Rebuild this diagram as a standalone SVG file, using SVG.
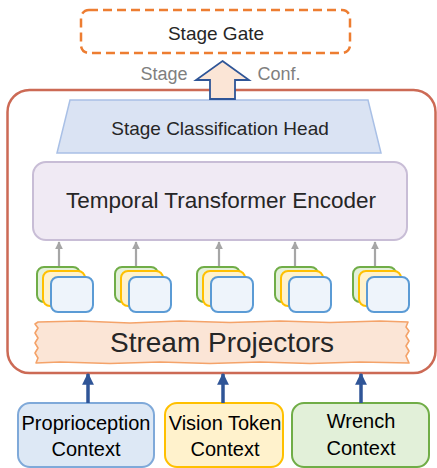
<svg xmlns="http://www.w3.org/2000/svg" width="437" height="468" viewBox="0 0 437 468">
<style>
text{font-family:"Liberation Sans",Arial,sans-serif;fill:#262626;text-anchor:middle}
.gray{fill:#7f7f7f}
.blk{fill:#000}
.card{stroke-width:2}
.g{fill:#e2f0d9;stroke:#70ad47}
.y{fill:#fff2cc;stroke:#ffc000}
.b{fill:#eef4fb;stroke:#5b9bd5}
.garrow{stroke:#a6a6a6;stroke-width:2.2}
.barrow{stroke:#2f5597;stroke-width:3.5}
</style>
<defs>
<g id="stack">
<rect class="card g" x="0" y="0" width="43" height="35" rx="7"/>
<rect class="card y" x="6" y="4" width="42" height="35" rx="7"/>
<rect class="card b" x="14" y="10" width="42" height="35" rx="7"/>
</g>
<marker id="gh" viewBox="0 0 10 10" refX="9" refY="5" markerWidth="3.5" markerHeight="3.5" orient="auto" markerUnits="strokeWidth">
<path d="M0,0 L10,5 L0,10 z" fill="#a6a6a6"/>
</marker>
<marker id="bh" viewBox="0 0 10 10" refX="9" refY="5" markerWidth="3.6" markerHeight="3.4" orient="auto" markerUnits="strokeWidth">
<path d="M0,0 L10,5 L0,10 z" fill="#2f5597"/>
</marker>
</defs>

<g id="stage-gate">
<rect x="81" y="10" width="269" height="43" rx="8" fill="#fff" stroke="#ed7d31" stroke-width="2.5" stroke-dasharray="9 5"/>
<text x="216" y="40" font-size="19">Stage Gate</text>
</g>

<g id="outer">
<rect x="7.5" y="90" width="428" height="283" rx="22" fill="#fff" stroke="#cc6a55" stroke-width="2.5"/>
</g>

<g id="head">
<polygon points="70,100 368,100 381,153 57,153" fill="#dae3f3" stroke="#a9c0e6" stroke-width="1.5"/>
<text x="220" y="135" font-size="19">Stage Classification Head</text>
</g>

<g id="output-arrow">
<polygon points="222.5,61 249,80 235,80 235,99 210,99 210,80 196,80" fill="#fbe5d6" stroke="#2f5597" stroke-width="1.8" stroke-linejoin="miter"/>
<text class="gray" x="164" y="80" font-size="18">Stage</text>
<text class="gray" x="279" y="80" font-size="18">Conf.</text>
</g>

<g id="encoder">
<rect x="33" y="162" width="374" height="78" rx="13" fill="#f0eaf4" stroke="#c8bdd6" stroke-width="2"/>
<text x="221" y="208" font-size="22.5">Temporal Transformer Encoder</text>
</g>

<g id="token-stacks">
<use href="#stack" x="37" y="267"/>
<use href="#stack" x="115" y="267"/>
<use href="#stack" x="197" y="267"/>
<use href="#stack" x="275" y="267"/>
<use href="#stack" x="353" y="267"/>
</g>

<g id="stream-projectors">
<path d="M38,322 L80,321 L130,323 L180,321 L230,322.5 L280,321 L330,322.5 L380,321 L408,322 L406,327 L409,331 L406,336 L409,341 L406,346 L409,351 L406,356 L409,363 L360,362 L310,363.5 L260,362 L210,363.5 L160,362 L110,363.5 L60,362 L36,363 L38,358 L35,353 L38,348 L35,343 L38,338 L35,333 L38,328 L35,324 Z" fill="#fbe5d6" stroke="#f4a36a" stroke-width="1.6" stroke-linejoin="round"/>
<text x="222" y="352" font-size="28">Stream Projectors</text>
</g>

<g id="proprioception">
<rect x="18" y="403" width="136" height="64" rx="12" fill="#dde8f5" stroke="#7fa9d9" stroke-width="2"/>
<text class="blk" x="86" y="430" font-size="20">Proprioception</text>
<text class="blk" x="86" y="456" font-size="20">Context</text>
</g>

<g id="vision">
<rect x="165" y="403" width="118" height="64" rx="12" fill="#fff2cc" stroke="#ffc000" stroke-width="2"/>
<text class="blk" x="225" y="430" font-size="20">Vision Token</text>
<text class="blk" x="225" y="456" font-size="20">Context</text>
</g>

<g id="wrench">
<rect x="292" y="403" width="137" height="64" rx="12" fill="#e2f0d9" stroke="#70ad47" stroke-width="2"/>
<text class="blk" x="361" y="428" font-size="20">Wrench</text>
<text class="blk" x="361" y="455" font-size="20">Context</text>
</g>

<g id="connectors">
<line class="garrow" x1="59" y1="266" x2="59" y2="242" marker-end="url(#gh)"/>
<line class="garrow" x1="136" y1="266" x2="136" y2="242" marker-end="url(#gh)"/>
<line class="garrow" x1="219" y1="266" x2="219" y2="242" marker-end="url(#gh)"/>
<line class="garrow" x1="295" y1="266" x2="295" y2="242" marker-end="url(#gh)"/>
<line class="garrow" x1="375" y1="266" x2="375" y2="242" marker-end="url(#gh)"/>
<line class="barrow" x1="88" y1="403" x2="88" y2="374" marker-end="url(#bh)"/>
<line class="barrow" x1="223" y1="403" x2="223" y2="374" marker-end="url(#bh)"/>
<line class="barrow" x1="361" y1="403" x2="361" y2="374" marker-end="url(#bh)"/>
</g>
</svg>
